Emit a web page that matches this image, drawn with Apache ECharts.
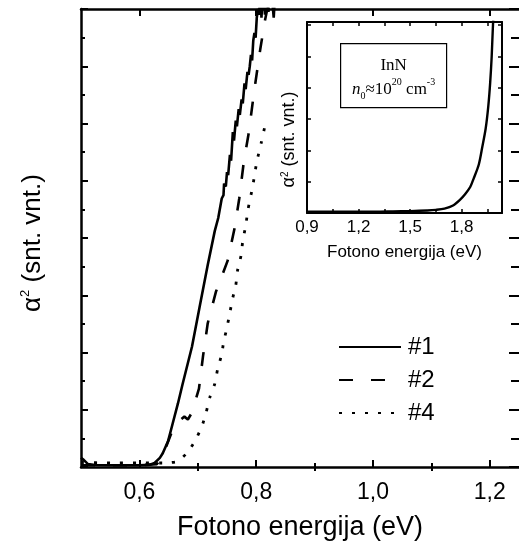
<!DOCTYPE html>
<html>
<head>
<meta charset="utf-8">
<script src="https://cdn.jsdelivr.net/npm/echarts@6/dist/echarts.min.js"></script>
<style>html,body{margin:0;padding:0;background:#fff;}#c{width:519px;height:546px;}</style>
</head>
<body>
<div id="c"></div>
<script>
// ---- data ----
const seriesNames = ['#1', '#2', '#4'];
const energy1 = [0.500,0.505,0.512,0.524,0.550,0.600,0.618,0.626,0.635,0.640,0.649,0.657,0.666,0.674,0.690,0.703,0.717,0.729,0.735,0.741,0.744,0.745,0.748,0.750,0.752,0.755,0.757,0.760,0.762,0.765,0.767,0.770,0.772,0.775,0.777,0.780,0.782,0.785,0.787,0.789,0.791,0.793,0.795,0.797,0.799,0.801,0.803,0.805,0.807,0.809,0.812,0.815,0.818,0.821,0.824,0.827,0.830,0.833];
const alpha1  = [0.16,0.12,0.05,0.035,0.03,0.03,0.04,0.07,0.16,0.24,0.45,0.76,1.11,1.45,2.10,2.79,3.53,4.12,4.35,4.69,4.75,4.95,4.90,5.15,5.10,5.45,5.35,5.85,5.70,6.05,5.95,6.25,6.15,6.42,6.35,6.70,6.60,6.90,6.85,7.00,7.20,7.10,7.45,7.58,7.50,7.85,8.00,7.90,8.30,7.85,8.40,7.90,8.50,7.95,8.60,8.20,7.85,8.40];
const energy2 = [0.500,0.550,0.600,0.630,0.640,0.655,0.667,0.677,0.683,0.690,0.702,0.709,0.717,0.731,0.740,0.751,0.763,0.771,0.779,0.787,0.797,0.807,0.815,0.822];
const alpha2  = [0.03,0.03,0.03,0.05,0.20,0.60,0.80,0.88,0.83,0.95,1.37,1.94,2.51,3.06,3.30,3.60,4.17,4.69,5.35,5.82,6.60,7.30,7.80,8.15];
const energy4 = [0.500,0.550,0.600,0.640,0.655,0.666,0.681,0.695,0.707,0.714,0.721,0.729,0.734,0.741,0.744,0.750,0.755,0.760,0.765,0.768,0.774,0.777,0.782,0.786,0.794,0.801,0.809,0.815];
const alpha4  = [0.08,0.07,0.07,0.07,0.08,0.10,0.24,0.45,0.71,0.94,1.23,1.45,1.71,1.97,2.17,2.44,2.70,2.96,3.17,3.43,3.69,3.95,4.21,4.50,4.90,5.33,5.68,5.96];
const insetEnergy = [0.90,1.00,1.10,1.20,1.30,1.40,1.50,1.60,1.65,1.70,1.75,1.79,1.82,1.85,1.87,1.90,1.92,1.94,1.955,1.966,1.975,1.983,1.990];
const insetAlpha  = [0.04,0.04,0.04,0.04,0.04,0.05,0.06,0.08,0.10,0.14,0.24,0.42,0.60,0.83,1.10,1.55,2.10,2.70,3.40,4.15,5.00,6.07,6.60];
const mainMajorTicks = [0.6, 0.8, 1.0, 1.2];
const mainMinorTicks = [0.7, 0.9, 1.1];
const insetLabels = [0.9, 1.2, 1.5, 1.8];
const insetTicks = [1.05, 1.2, 1.35, 1.5, 1.65, 1.8, 1.95];

const pairs = (xs, ys) => xs.map((x, i) => [x, ys[i]]);
const comma = v => v.toFixed(1).replace('.', ',');
const FONT = 'Liberation Sans, Arial, sans-serif';
const SERIF = 'Liberation Serif, Times New Roman, serif';

function xAx(grid, pos, min, max, opts) {
  return Object.assign({
    type: 'value', gridIndex: grid, position: pos, min: min, max: max,
    splitLine: {show: false},
    axisLine: {show: true, onZero: false, lineStyle: {color: '#000', width: 2.5}},
    axisTick: {show: false},
    axisLabel: {show: false}
  }, opts);
}

const chart = echarts.init(document.getElementById('c'), null, {renderer: 'canvas'});
chart.setOption({
  backgroundColor: '#fff',
  animation: false,
  textStyle: {fontFamily: FONT, color: '#000'},
  grid: [
    {left: 81, top: 9, width: 444, height: 462},
    {left: 307, top: 22, width: 195, height: 191}
  ],
  xAxis: [
    xAx(0, 'bottom', 0.5, 1.25, {
      axisTick: {show: true, inside: true, length: 7, customValues: mainMajorTicks, lineStyle: {color: '#000', width: 2}},
      axisLabel: {show: true, customValues: mainMajorTicks, formatter: comma, fontSize: 23, color: '#000', margin: 14, fontFamily: FONT},
      name: 'Fotono energija (eV)', nameLocation: 'middle', nameGap: 47,
      nameTextStyle: {fontSize: 27, color: '#000', fontFamily: FONT}
    }),
    xAx(0, 'bottom', 0.5, 1.25, {
      axisLine: {show: false},
      axisTick: {show: true, inside: true, length: 4, customValues: mainMinorTicks, lineStyle: {color: '#000', width: 2}}
    }),
    xAx(0, 'top', 0.5, 1.25, {
      axisTick: {show: true, inside: true, length: 7, customValues: mainMajorTicks, lineStyle: {color: '#000', width: 2}}
    }),
    xAx(0, 'top', 0.5, 1.25, {
      axisLine: {show: false},
      axisTick: {show: true, inside: true, length: 4, customValues: mainMinorTicks, lineStyle: {color: '#000', width: 2}}
    }),
    xAx(1, 'bottom', 0.9, 2.035, {
      axisLine: {show: true, onZero: false, lineStyle: {color: '#000', width: 2}},
      axisTick: {show: true, inside: true, length: 4, customValues: insetTicks, lineStyle: {color: '#000', width: 1.5}},
      axisLabel: {show: true, customValues: insetLabels, formatter: comma, fontSize: 17, color: '#000', margin: 6, fontFamily: FONT},
      name: 'Fotono energija (eV)', nameLocation: 'middle', nameGap: 31,
      nameTextStyle: {fontSize: 17, color: '#000', fontFamily: FONT}
    }),
    xAx(1, 'top', 0.9, 2.035, {
      axisLine: {show: true, onZero: false, lineStyle: {color: '#000', width: 2}},
      axisTick: {show: true, inside: true, length: 4, customValues: insetTicks, lineStyle: {color: '#000', width: 1.5}}
    })
  ],
  yAxis: [
    {type: 'value', gridIndex: 0, position: 'left', min: 0, max: 8, interval: 1,
     splitLine: {show: false},
     axisLine: {show: true, onZero: false, lineStyle: {color: '#000', width: 2.5}},
     axisTick: {show: true, inside: true, length: 7, lineStyle: {color: '#000', width: 2}},
     minorTick: {show: true, splitNumber: 2, length: 4, lineStyle: {color: '#000', width: 2}},
     axisLabel: {show: false},
     name: '{a|α}{s|2}{a| (snt. vnt.)}', nameLocation: 'middle', nameGap: 35, nameRotate: 90,
     nameTextStyle: {color: '#000', fontFamily: FONT, padding: [0, 10, 0, 0],
       rich: {a: {fontSize: 26, fontFamily: FONT, color: '#000'}, s: {fontSize: 13, fontFamily: FONT, color: '#000', verticalAlign: 'top', padding: [0, 0, 14, 0]}}}
    },
    {type: 'value', gridIndex: 0, position: 'right', min: 0, max: 8, interval: 1,
     splitLine: {show: false},
     axisLine: {show: false, onZero: false},
     axisTick: {show: true, inside: true, length: 10, lineStyle: {color: '#000', width: 2}},
     minorTick: {show: true, splitNumber: 2, length: 8, lineStyle: {color: '#000', width: 2}},
     axisLabel: {show: false}
    },
    {type: 'value', gridIndex: 1, position: 'left', min: 0, max: 6.1, interval: 1,
     splitLine: {show: false},
     axisLine: {show: true, onZero: false, lineStyle: {color: '#000', width: 2}},
     axisTick: {show: true, inside: true, length: 4, lineStyle: {color: '#000', width: 1.5}},
     axisLabel: {show: false},
     name: '{a|α}{s|2}{a| (snt. vnt.)}', nameLocation: 'middle', nameGap: 8, nameRotate: 90,
     nameTextStyle: {color: '#000', fontFamily: FONT, padding: [0, 44, 0, 0],
       rich: {a: {fontSize: 18, fontFamily: FONT, color: '#000'}, s: {fontSize: 10, fontFamily: FONT, color: '#000', verticalAlign: 'top', padding: [0, 0, 9, 0]}}}
    },
    {type: 'value', gridIndex: 1, position: 'right', min: 0, max: 6.1, interval: 1,
     splitLine: {show: false},
     axisLine: {show: true, onZero: false, lineStyle: {color: '#000', width: 2}},
     axisTick: {show: true, inside: true, length: 4, lineStyle: {color: '#000', width: 1.5}},
     axisLabel: {show: false}
    }
  ],
  legend: {
    data: seriesNames, orient: 'vertical', left: 338, top: 335, padding: 0,
    itemWidth: 62, itemHeight: 14, itemGap: 9,
    itemStyle: {opacity: 0},
    textStyle: {fontSize: 24, color: '#000', fontFamily: FONT, padding: [0, 0, 0, 2]},
    selectedMode: false
  },
  graphic: [{
    type: 'group', left: 340, top: 43,
    children: [
      {type: 'rect', shape: {x: 0, y: 0, width: 106, height: 64}, style: {fill: '#fff', stroke: '#000', lineWidth: 1.2}},
      {type: 'text', x: 53, y: 34, style: {
        text: '{t|InN}\n{i|n}{sub|0}{t|≈10}{sup|20}{t| cm}{sup|-3}',
        align: 'center', verticalAlign: 'middle',
        rich: {
          t: {fontSize: 17, fontFamily: SERIF, fill: '#000', lineHeight: 24},
          i: {fontSize: 17, fontFamily: SERIF, fontStyle: 'italic', fill: '#000', lineHeight: 24},
          sub: {fontSize: 10, fontFamily: SERIF, fill: '#000', verticalAlign: 'bottom', lineHeight: 24},
          sup: {fontSize: 10, fontFamily: SERIF, fill: '#000', verticalAlign: 'top', lineHeight: 24}
        }
      }}
    ]
  }],
  series: [
    {name: '#1', type: 'line', xAxisIndex: 0, yAxisIndex: 0, symbol: 'none', clip: true,
     data: pairs(energy1, alpha1), lineStyle: {color: '#000', width: 2.6, type: 'solid'}, itemStyle: {color: '#000'}},
    {name: '#2', type: 'line', xAxisIndex: 0, yAxisIndex: 0, symbol: 'none', clip: true,
     data: pairs(energy2, alpha2), lineStyle: {color: '#000', width: 2.6, type: [14, 18]}, itemStyle: {color: '#000'}},
    {name: '#4', type: 'line', xAxisIndex: 0, yAxisIndex: 0, symbol: 'none', clip: true, smooth: 0.2,
     data: pairs(energy4, alpha4), lineStyle: {color: '#000', width: 2.8, type: [3, 10]}, itemStyle: {color: '#000'}},
    {name: 'InN', type: 'line', xAxisIndex: 4, yAxisIndex: 2, symbol: 'none', clip: true, smooth: 0.3,
     data: pairs(insetEnergy, insetAlpha), lineStyle: {color: '#000', width: 2.4}, itemStyle: {color: '#000'}}
  ]
});
</script>
</body>
</html>
